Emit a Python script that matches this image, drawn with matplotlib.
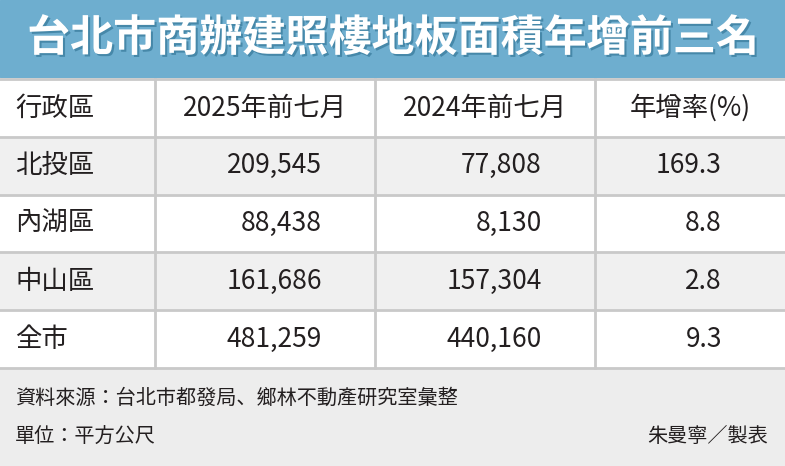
import matplotlib
matplotlib.use('Agg')
import matplotlib.pyplot as plt
from matplotlib.patches import Rectangle
import matplotlib.patheffects as pe

plt.rcParams['font.family'] = ['Noto Sans CJK JP', 'Noto Sans CJK TC', 'Noto Sans CJK SC', 'DejaVu Sans']

title = '台北市商辦建照樓地板面積年增前三名'
headers = ['行政區', '2025年前七月', '2024年前七月', '年增率(%)']
districts = ['北投區', '內湖區', '中山區', '全市']
y2025 = ['209,545', '88,438', '161,686', '481,259']
y2024 = ['77,808', '8,130', '157,304', '440,160']
growth = ['169.3', '8.8', '2.8', '9.3']
source = '資料來源：台北市都發局、鄉林不動產研究室彙整'
unit = '單位：平方公尺'
author = '朱曼寧／製表'

W, H = 785, 466
fig = plt.figure(figsize=(W / 100, H / 100), dpi=100)
ax = fig.add_axes([0, 0, 1, 1])
ax.set_xlim(0, W)
ax.set_ylim(H, 0)
ax.axis('off')

blue = '#6eaecf'
grey = '#f0f0f0'
line = '#c9c9c9'
txt = '#231f20'

# title bar
ax.add_patch(Rectangle((0, 0), W, 77, color=blue))
ax.text(W / 2, 38, title, ha='center', va='center', fontsize=31, fontweight='bold',
        color='white', path_effects=[pe.withSimplePatchShadow(offset=(1.5, -1.5), shadow_rgbFace='#3d7fa0', alpha=0.8)])

col_edges = [0, 155, 375, 595, W]
row_top = 79
row_h = 57.8
n_rows = 1 + len(districts)
for i in range(n_rows):
    y0 = row_top + i * row_h
    ax.add_patch(Rectangle((0, y0), W, row_h, color='white' if i % 2 == 0 else grey))
    ax.plot([0, W], [y0, y0], color=line, lw=2)
table_bottom = row_top + n_rows * row_h
ax.plot([0, W], [table_bottom, table_bottom], color=line, lw=2)
for x in col_edges[1:-1]:
    ax.plot([x, x], [row_top, table_bottom], color=line, lw=2)

# header
hy = row_top + row_h / 2
ax.text(15, hy, headers[0], ha='left', va='center', fontsize=19, color=txt)
for j in range(1, 4):
    ax.text((col_edges[j] + col_edges[j + 1]) / 2, hy, headers[j], ha='center', va='center', fontsize=19, color=txt)

num_right = [322, 542, 722]
for i, d in enumerate(districts):
    cy = row_top + (i + 1) * row_h + row_h / 2
    ax.text(15, cy, d, ha='left', va='center', fontsize=19, color=txt)
    for x, v in zip(num_right, [y2025[i], y2024[i], growth[i]]):
        ax.text(x, cy, v, ha='right', va='center', fontsize=19, color=txt)

# footer
ax.add_patch(Rectangle((0, table_bottom + 1), W, H - table_bottom, color='#ededed'))
ax.text(15, 398, source, ha='left', va='center', fontsize=14.5, color=txt)
ax.text(15, 437, unit, ha='left', va='center', fontsize=14.5, color=txt)
ax.text(768, 437, author, ha='right', va='center', fontsize=14.5, color=txt)

fig.savefig('out.png', dpi=100)
